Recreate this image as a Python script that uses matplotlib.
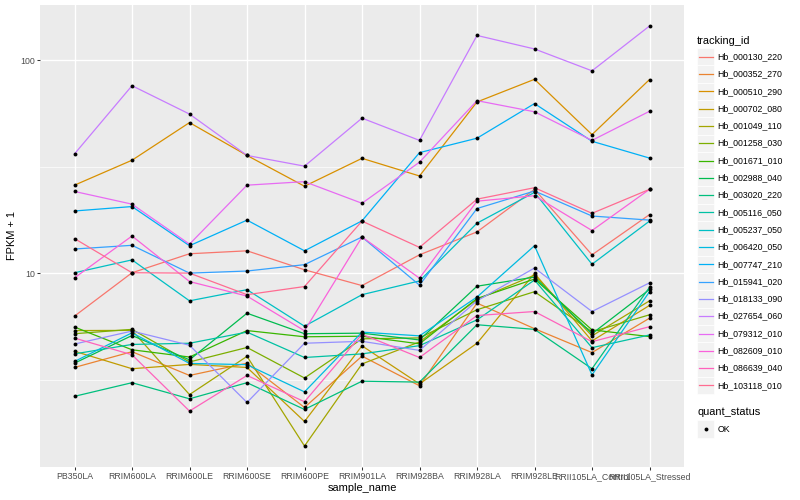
import numpy as np
import matplotlib
matplotlib.use('Agg')
import matplotlib.pyplot as plt
from matplotlib.lines import Line2D
from matplotlib.patches import Rectangle
from matplotlib.ticker import FixedLocator, NullFormatter

plt.rcParams['font.family'] = ['Liberation Sans', 'DejaVu Sans']

# samples on the x axis
sample_names = ['PB350LA', 'RRIM600LA', 'RRIM600LE', 'RRIM600SE', 'RRIM600PE', 'RRIM901LA',
                'RRIM928BA', 'RRIM928LA', 'RRIM928LE', 'RRII105LA_Control', 'RRII105LA_Stressed']

tracking_ids = ['Hb_000130_220', 'Hb_000352_270', 'Hb_000510_290', 'Hb_000702_080', 'Hb_001049_110',
                'Hb_001258_030', 'Hb_001671_010', 'Hb_002988_040', 'Hb_003020_220', 'Hb_005116_050',
                'Hb_005237_050', 'Hb_006420_050', 'Hb_007747_210', 'Hb_015941_020', 'Hb_018133_090',
                'Hb_027654_060', 'Hb_079312_010', 'Hb_082609_010', 'Hb_086639_040', 'Hb_103118_010']

# FPKM + 1 per gene, one value per sample
hb_000130_220 = [6.30, 10.06, 12.35, 12.75, 10.39, 8.76, 12.21, 15.64, 24.76, 12.21, 18.85]
hb_000352_270 = [3.62, 4.29, 3.32, 3.79, 2.35, 4.09, 2.97, 7.25, 5.50, 4.25, 6.16]
hb_000510_290 = [25.9, 33.9, 50.9, 35.7, 25.6, 34.6, 28.6, 63.6, 81.2, 44.7, 81.0]
hb_000702_080 = [4.31, 3.57, 3.74, 3.62, 2.02, 4.57, 3.03, 4.70, 9.99, 4.82, 7.07]
hb_001049_110 = [5.39, 5.40, 2.70, 4.08, 1.55, 3.76, 4.77, 7.54, 9.81, 5.09, 7.43]
hb_001258_030 = [5.21, 5.46, 3.84, 4.49, 3.23, 4.93, 4.98, 6.75, 8.20, 5.32, 6.39]
hb_001671_010 = [5.60, 4.38, 4.05, 5.39, 5.04, 5.07, 4.67, 7.62, 9.40, 5.43, 5.05]
hb_002988_040 = [3.79, 5.11, 3.93, 6.50, 5.21, 5.24, 4.87, 8.70, 9.60, 5.21, 8.40]
hb_003020_220 = [2.65, 3.07, 2.58, 3.07, 2.30, 3.12, 3.09, 5.74, 5.46, 3.57, 8.60]
hb_005116_050 = [4.19, 4.64, 4.70, 5.30, 4.03, 4.19, 4.58, 6.05, 9.30, 4.48, 5.14]
hb_005237_050 = [10.06, 11.56, 7.43, 8.38, 5.65, 7.94, 9.21, 17.18, 23.96, 11.03, 17.57]
hb_006420_050 = [3.86, 5.26, 3.78, 3.73, 2.78, 5.30, 5.09, 7.74, 13.47, 3.34, 8.20]
hb_007747_210 = [19.60, 20.56, 13.47, 17.76, 12.75, 17.62, 36.8, 43.0, 62.5, 41.6, 34.7]
hb_015941_020 = [13.00, 13.53, 10.02, 10.25, 10.98, 14.80, 8.80, 20.13, 24.31, 18.56, 17.76]
hb_018133_090 = [4.66, 5.36, 4.60, 2.48, 4.70, 4.80, 4.35, 7.43, 10.59, 6.62, 9.02]
hb_027654_060 = [36.3, 75.8, 55.8, 35.7, 31.8, 53.4, 42.0, 130.4, 112.7, 89.0, 144.4]
hb_079312_010 = [24.2, 21.1, 13.7, 25.9, 26.9, 21.3, 33.2, 64.5, 57.2, 42.0, 57.5]
hb_082609_010 = [9.52, 14.96, 9.15, 7.82, 5.38, 14.80, 9.49, 21.79, 23.11, 15.87, 24.76]
hb_086639_040 = [4.97, 4.15, 2.26, 3.32, 2.50, 5.18, 4.03, 6.34, 6.62, 4.78, 5.62]
hb_103118_010 = [14.55, 10.06, 10.02, 7.94, 8.67, 17.57, 13.23, 22.27, 25.2, 19.11, 24.76]

series = [hb_000130_220, hb_000352_270, hb_000510_290, hb_000702_080, hb_001049_110,
          hb_001258_030, hb_001671_010, hb_002988_040, hb_003020_220, hb_005116_050,
          hb_005237_050, hb_006420_050, hb_007747_210, hb_015941_020, hb_018133_090,
          hb_027654_060, hb_079312_010, hb_082609_010, hb_086639_040, hb_103118_010]

quant_levels = ['OK']

# ggplot default hue palette for 20 levels
colors = ['#F8766D', '#EA8331', '#D89000', '#C09B00', '#A3A500', '#7CAE00', '#39B600',
          '#00BB4E', '#00BF7D', '#00C1A3', '#00BFC4', '#00BAE0', '#00B0F6', '#35A2FF',
          '#9590FF', '#C77CFF', '#E76BF3', '#FA62DB', '#FF62BC', '#FF6C91']

W, H = 800, 500


def fx(px):
    return px / W


def fy(py):
    return 1 - py / H


fig = plt.figure(figsize=(8, 5), dpi=100)
ax = fig.add_axes([fx(40), fy(467), (684 - 40) / W, (467 - 5) / H])
ax.set_facecolor('#EBEBEB')
for s in ax.spines.values():
    s.set_visible(False)

x = np.arange(len(sample_names))
for vals, c in zip(series, colors):
    ax.plot(x, vals, color=c, lw=0.9, zorder=2, solid_joinstyle='round')
for vals in series:
    ax.plot(x, vals, 'o', color='black', ms=2.8, mew=0, zorder=3)

ax.set_yscale('log')
allv = np.log10(np.concatenate([np.array(v) for v in series]))
lo, hi = allv.min(), allv.max()
pad = 0.05 * (hi - lo)
ax.set_ylim(10 ** (lo - pad), 10 ** (hi + pad))
ax.set_xlim(-0.6, len(sample_names) - 0.4)

ax.set_yticks([10, 100])
ax.set_yticklabels(['10', '100'])
ax.yaxis.set_minor_locator(FixedLocator([10 ** 0.5, 10 ** 1.5]))
ax.yaxis.set_minor_formatter(NullFormatter())
ax.set_xticks(x)
ax.set_xticklabels(sample_names)
ax.tick_params(which='major', length=2.0, width=0.75, color='#333333',
               labelsize=6.3, labelcolor='#4D4D4D', pad=1.6)
ax.tick_params(which='minor', length=0)

ax.grid(which='major', color='white', linewidth=1.0)
ax.grid(which='minor', axis='y', color='white', linewidth=0.5)
ax.set_axisbelow(True)

fig.text(fx(362), fy(488), 'sample_name', ha='center', va='center', fontsize=7.9)
fig.text(fx(12), fy(236), 'FPKM + 1', ha='center', va='center', rotation=90, fontsize=7.9)

# legend: tracking_id
key_w = 17.3
fig.text(fx(697), fy(40.7), 'tracking_id', ha='left', va='center', fontsize=7.9)
for i, (name, c) in enumerate(zip(tracking_ids, colors)):
    cy = 56.7 + key_w * i
    fig.add_artist(Rectangle((fx(697), fy(cy + key_w / 2)), key_w / W, key_w / H,
                             transform=fig.transFigure, facecolor='#F2F2F2',
                             edgecolor='white', lw=0.5))
    fig.add_artist(Line2D([fx(698.7), fx(712.6)], [fy(cy), fy(cy)],
                          transform=fig.transFigure, color=c, lw=0.9))
    fig.text(fx(717.5), fy(cy), name, ha='left', va='center', fontsize=6.3)

# legend: quant_status
fig.text(fx(697), fy(412.3), 'quant_status', ha='left', va='center', fontsize=7.9)
for i, name in enumerate(quant_levels):
    cy = 429 + key_w * i
    fig.add_artist(Rectangle((fx(697), fy(cy + key_w / 2)), key_w / W, key_w / H,
                             transform=fig.transFigure, facecolor='#F2F2F2',
                             edgecolor='white', lw=0.5))
    fig.add_artist(Line2D([fx(705.6)], [fy(cy)], transform=fig.transFigure,
                          marker='o', color='black', ms=2.8, mew=0, lw=0))
    fig.text(fx(717.5), fy(cy), name, ha='left', va='center', fontsize=6.3)

fig.savefig('out.png', dpi=100)
